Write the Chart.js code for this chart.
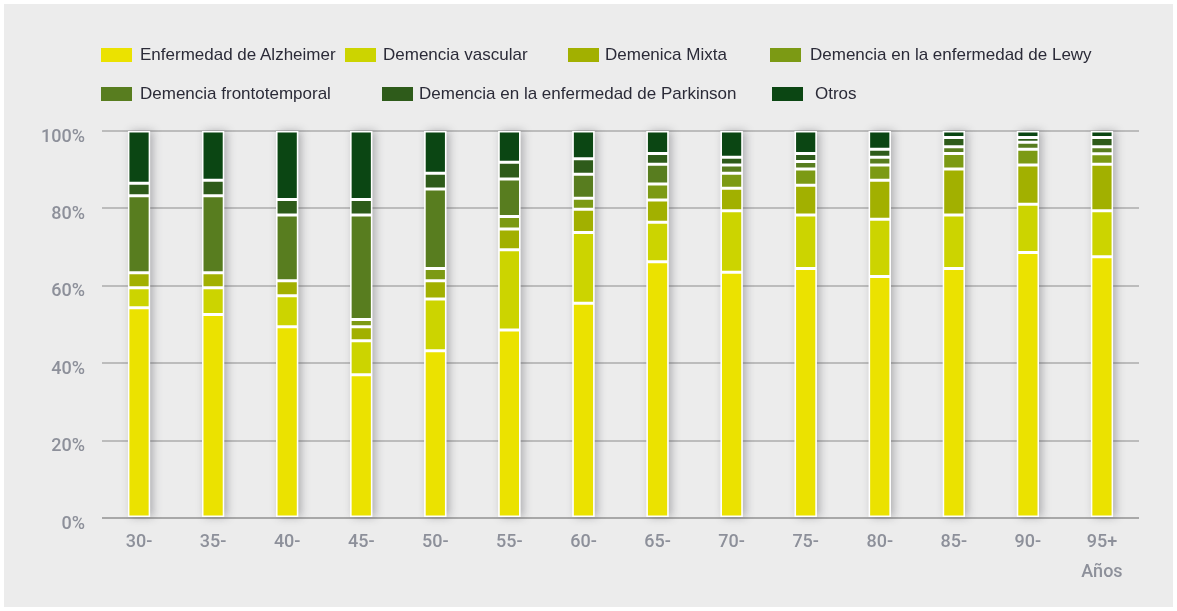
<!DOCTYPE html>
<html>
<head>
<meta charset="utf-8">
<script src="https://cdn.jsdelivr.net/npm/chart.js@4.4.1/dist/chart.umd.min.js"></script>
<style>
  html, body { margin:0; padding:0; background:#fff; }
  #wrap { position:relative; width:1177px; height:611px; overflow:hidden; }
  #panel { position:absolute; left:4px; top:4px; width:1169px; height:603px; background:#ececec; }
  #chart { position:absolute; left:0; top:0; }
  #legend { position:absolute; left:0; top:0; width:1177px; height:120px;
            font-family:"Liberation Sans", Arial, sans-serif; font-size:17px; color:#2b2b38; }
  .lg-box { position:absolute; width:31px; height:14px; }
  .lg-txt { position:absolute; line-height:20px; white-space:nowrap; }
</style>
</head>
<body>
<div id="wrap">
  <div id="panel"></div>
  <canvas id="chart" width="1177" height="611"></canvas>
  <div id="legend"></div>
</div>
<script>
// grupos de edad (eje x)
const categories = ['30-','35-','40-','45-','50-','55-','60-','65-','70-','75-','80-','85-','90-',['95+','Años']];

// porcentaje de cada tipo de demencia por grupo de edad (apilado hasta 100%)
const alzheimer      = [54.3, 52.6, 49.4, 37.0, 43.2, 48.6, 55.5, 66.2, 63.5, 64.5, 62.4, 64.5, 68.6, 67.5];
const vascular       = [ 5.2,  6.9,  8.0,  8.8, 13.4, 20.7, 18.3, 10.2, 15.9, 13.8, 14.8, 13.8, 12.5, 11.9];
const mixta          = [ 3.9,  3.9,  3.9,  3.6,  4.7,  5.4,  6.0,  5.8,  5.8,  7.7, 10.1, 11.9, 10.1, 12.0];
const lewy           = [ 0.0,  0.0,  0.0,  1.9,  3.2,  3.2,  2.8,  4.1,  3.9,  4.2,  3.9,  4.0,  4.1,  2.7];
const frontotemporal = [19.9, 19.9, 17.0, 27.0, 20.5,  9.7,  6.2,  5.1,  2.1,  1.9,  2.0,  1.7,  1.8,  1.8];
const parkinson      = [ 3.2,  4.0,  4.0,  4.0,  4.1,  4.3,  4.0,  2.8,  2.0,  2.1,  2.1,  2.4,  1.2,  2.4];
const otros          = [13.5, 12.7, 17.7, 17.7, 10.9,  8.1,  7.2,  5.8,  6.8,  5.8,  4.7,  1.7,  1.7,  1.7];

const yTicks = [0, 20, 40, 60, 80, 100];

const seriesNames = ['Enfermedad de Alzheimer','Demencia vascular','Demenica Mixta','Demencia en la enfermedad de Lewy',
                     'Demencia frontotemporal','Demencia en la enfermedad de Parkinson','Otros'];
const seriesData = [alzheimer, vascular, mixta, lewy, frontotemporal, parkinson, otros];
const seriesColors = ['#ebe200','#ccd400','#a2b000','#7c9a14','#587d1f','#2e5b1a','#0b4613'];

// posiciones de la leyenda (dos filas)
const legendPos = [
  {x:101, y:48, tx:140}, {x:345, y:48, tx:383}, {x:568, y:48, tx:605}, {x:770, y:48, tx:810},
  {x:101, y:87, tx:140}, {x:382, y:87, tx:419}, {x:772, y:87, tx:815}
];
const legend = document.getElementById('legend');
legend.innerHTML = seriesNames.map((n, i) => {
  const p = legendPos[i];
  return `<div class="lg-box" style="left:${p.x}px;top:${p.y}px;background:${seriesColors[i]}"></div>` +
         `<div class="lg-txt" style="left:${p.tx}px;top:${p.y - 3}px">${n}</div>`;
}).join('');

// sombra suave detrás de cada columna
const barShadow = {
  id: 'barShadow',
  beforeDatasetsDraw(chart){
    const ctx = chart.ctx;
    const first = chart.getDatasetMeta(0), last = chart.getDatasetMeta(chart.data.datasets.length - 1);
    ctx.save();
    ctx.shadowColor = 'rgba(60,60,70,0.35)';
    ctx.shadowBlur = 9;
    ctx.shadowOffsetX = 3;
    ctx.fillStyle = '#ffffff';
    first.data.forEach((el, i) => {
      const top = last.data[i].y, bottom = el.base, w = el.width;
      ctx.fillRect(el.x - w/2, top, w, bottom - top);
    });
    ctx.restore();
  }
};

const tickFont = { family:'Roboto, "Liberation Sans", sans-serif', size:18, weight:'500' };

new Chart(document.getElementById('chart'), {
  type: 'bar',
  data: {
    labels: categories,
    datasets: seriesNames.map((n, i) => ({
      label: n,
      data: seriesData[i],
      backgroundColor: seriesColors[i],
      borderColor: '#ffffff',
      borderWidth: 1.5,
      borderSkipped: false,
      barPercentage: 0.3,
      categoryPercentage: 1.0
    }))
  },
  options: {
    responsive: false,
    animation: false,
    layout: { padding: { top: 131, right: 38, left: 0, bottom: 0 } },
    plugins: { legend: { display:false }, tooltip: { enabled:false } },
    scales: {
      x: {
        stacked: true,
        grid: { display:false, drawTicks:false },
        border: { display:false },
        ticks: { color:'#8d909a', font: Object.assign({}, tickFont, { lineHeight:1.65 }), padding: 10, maxRotation:0 },
        afterFit: s => { s.height = 93; }
      },
      y: {
        stacked: true,
        min: 0, max: 100,
        afterBuildTicks: s => { s.ticks = yTicks.map(v => ({ value:v })); },
        grid: { color: c => c.tick && c.tick.value === 0 ? '#a8a8a8' : '#bcbcbc', lineWidth: 2, drawTicks:false },
        border: { display:false },
        ticks: { color:'#8d909a', font: tickFont, padding: 17, labelOffset: 6, callback: v => v + '%' },
        afterFit: s => { s.width = 102; }
      }
    }
  },
  plugins: [barShadow]
});
</script>
</body>
</html>
